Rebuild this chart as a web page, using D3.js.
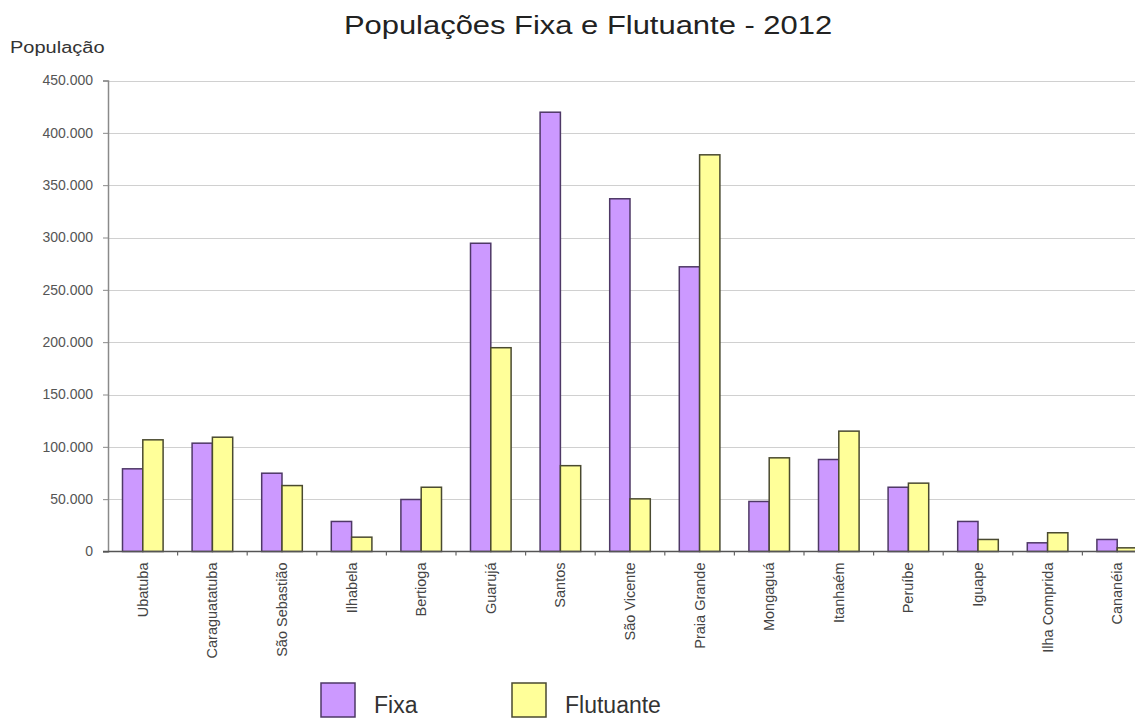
<!DOCTYPE html>
<html><head><meta charset="utf-8">
<script src="https://cdn.jsdelivr.net/npm/d3@7"></script>
<style>body{margin:0;background:#fff;} svg{display:block;font-family:"Liberation Sans",Arial,sans-serif;}</style>
</head><body><svg id="c" width="1135" height="720"></svg>
<script>
const categories = ["Ubatuba","Caraguatatuba","São Sebastião","Ilhabela","Bertioga","Guarujá","Santos","São Vicente","Praia Grande","Mongaguá","Itanhaém","Peruíbe","Iguape","Ilha Comprida","Cananéia"];
const fixa      = [79000,103500,74800,28700,49700,294500,419700,337000,272000,47800,87900,61400,28700,8300,11500];
const flutuante = [106700,109200,63000,13700,61400,194700,82000,50300,379000,89500,115000,65300,11500,17900,3500];
const seriesNames = ["Fixa","Flutuante"];
const yTicks = [0,50000,100000,150000,200000,250000,300000,350000,400000,450000];
const chartTitle = "Populações Fixa e Flutuante - 2012";
const yTitle = "População";

const svg = d3.select("#c");
const colors = {Fixa:"#cc99ff", Flutuante:"#ffff99"};
const strokes = {Fixa:"#4e3866", Flutuante:"#4a4a30"};
const mLeft = 108, mBottom = 551.5, mTop = 80.5;
const step = 69.6;
const x0 = d3.scaleBand().domain(categories).range([mLeft, mLeft + step*categories.length]).paddingInner(0).paddingOuter(0);
const x1 = d3.scaleBand().domain(seriesNames).range([0, x0.bandwidth()]).paddingInner(0).paddingOuter(0.714);
const y = d3.scaleLinear().domain([0,450000]).range([mBottom, mTop]);
const fmt = v => d3.format(",")(v).replace(/,/g,".");

// gridlines
svg.append("g").selectAll("line").data(yTicks.filter(d=>d>0)).join("line")
  .attr("x1", mLeft).attr("x2", 1135).attr("y1", d=>Math.round(y(d))+0.5).attr("y2", d=>Math.round(y(d))+0.5)
  .attr("stroke","#d0d0d0").attr("stroke-width",1.2);

// y axis
const yAxis = svg.append("g").attr("transform",`translate(${mLeft},0)`)
  .call(d3.axisLeft(y).tickValues(yTicks).tickFormat(fmt).tickSize(5).tickPadding(10));
yAxis.attr("font-family",null);
yAxis.select(".domain").attr("stroke","#8a8a8a").attr("stroke-width",1.5);
yAxis.selectAll(".tick line").attr("stroke","#8a8a8a");
yAxis.selectAll(".tick text").attr("font-size",14).attr("fill","#555");

// bars
const groups = svg.append("g").selectAll("g").data(categories).join("g")
  .attr("transform", d=>`translate(${x0(d)},0)`);
groups.selectAll("rect").data((d,i)=>[{k:"Fixa",v:fixa[i]},{k:"Flutuante",v:flutuante[i]}]).join("rect")
  .attr("x", d=>x1(d.k)).attr("width", x1.bandwidth())
  .attr("y", d=>y(d.v)).attr("height", d=>mBottom - y(d.v))
  .attr("fill", d=>colors[d.k]).attr("stroke", d=>strokes[d.k]).attr("stroke-width",1.5);

// x axis
const xAxis = svg.append("g").attr("transform",`translate(0,${mBottom})`)
  .call(d3.axisBottom(x0).tickSize(0).tickPadding(0).tickFormat(""));
xAxis.select(".domain").attr("stroke","#555").attr("stroke-width",1.5).attr("d",`M${mLeft-5},0H1135`);
svg.append("g").selectAll("line").data(categories.slice(1)).join("line")
  .attr("x1", d=>x0(d)).attr("x2", d=>x0(d)).attr("y1", mBottom).attr("y2", mBottom+4)
  .attr("stroke","#666").attr("stroke-width",1.2);
svg.append("g").selectAll("text").data(categories).join("text")
  .attr("transform", d=>`translate(${x0(d)+x0.bandwidth()/2},${mBottom+11}) rotate(-90)`)
  .attr("text-anchor","end").attr("dy","0.35em").attr("font-size",14.5).attr("fill","#444")
  .text(d=>d);

// titles
svg.append("text").attr("transform","translate(588,34) scale(1.19,1)")
  .attr("text-anchor","middle").attr("font-size",26).attr("fill","#222").text(chartTitle);
svg.append("text").attr("transform","translate(10,53) scale(1.25,1)")
  .attr("font-size",16).attr("fill","#333").text(yTitle);

// legend
const leg = svg.append("g").selectAll("g").data(seriesNames).join("g")
  .attr("transform",(d,i)=>`translate(${[321,512][i]},683)`);
leg.append("rect").attr("width",34).attr("height",34)
  .attr("fill",d=>colors[d]).attr("stroke",d=>strokes[d]).attr("stroke-width",1.5);
leg.append("text").attr("x",53).attr("y",30).attr("font-size",23).attr("fill","#333").text(d=>d);
</script></body></html>
